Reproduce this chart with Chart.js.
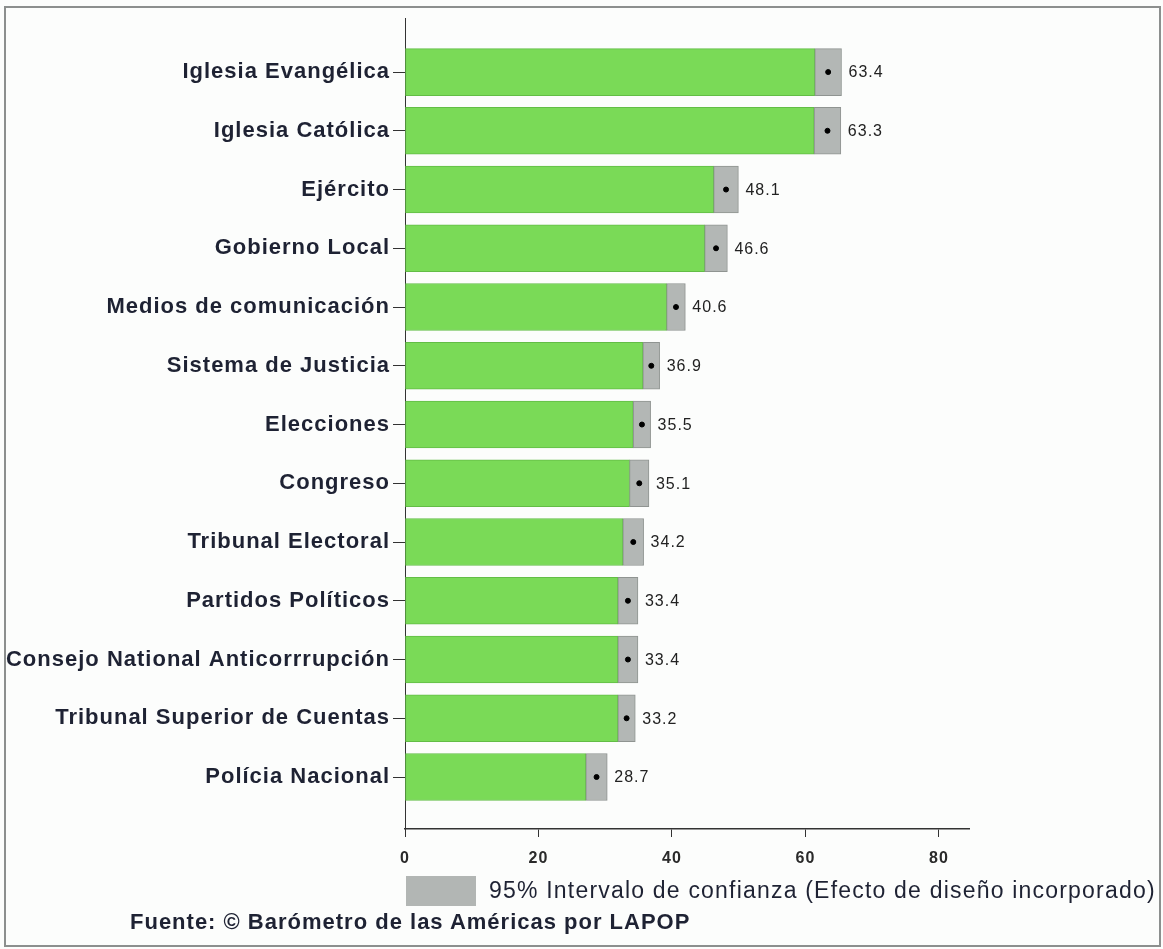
<!DOCTYPE html>
<html lang="es">
<head>
<meta charset="UTF-8">
<title>Confianza en instituciones</title>
<style>
    body { margin: 0; background: #fff; }
    .page { position: relative; width: 1163px; height: 949px; background: #fcfdfc; overflow: hidden; }
    .frame { position: absolute; left: 4px; top: 6px; width: 1153px; height: 937px; border: 2px solid #8c8f8e; }
    canvas { position: absolute; left: 0; top: 0; }
    .legendBox { position: absolute; left: 406px; top: 876px; width: 70px; height: 30px; background: #b2b6b4; }
    .legendText { position: absolute; left: 489px; top: 877px; font: 23px "Liberation Sans", Arial, sans-serif; letter-spacing: 1.2px; color: #1e2233; white-space: nowrap; }
    .source { position: absolute; left: 130px; top: 909px; font: bold 22px "Liberation Sans", Arial, sans-serif; letter-spacing: 1px; color: #1e2233; white-space: nowrap; }
</style>
</head>
<body>
<div class="page">
    <div class="frame"></div>
    <canvas id="confChart" width="1163" height="949"></canvas>
    <div class="legendBox"></div>
    <div class="legendText">95% Intervalo de confianza (Efecto de diseño incorporado)</div>
    <div class="source">Fuente: © Barómetro de las Américas por LAPOP</div>
</div>
<script src="https://cdn.jsdelivr.net/npm/chart.js"></script>
<script>
    const institutions = [
        "Iglesia Evangélica", "Iglesia Católica", "Ejército", "Gobierno Local",
        "Medios de comunicación", "Sistema de Justicia", "Elecciones", "Congreso",
        "Tribunal Electoral", "Partidos Políticos", "Consejo National Anticorrrupción",
        "Tribunal Superior de Cuentas", "Polícia Nacional"
    ];
    const trust = [63.4, 63.3, 48.1, 46.6, 40.6, 36.9, 35.5, 35.1, 34.2, 33.4, 33.4, 33.2, 28.7];
    // half width of the 95% interval
    const ciHalf = [2.0, 2.0, 1.85, 1.7, 1.4, 1.25, 1.3, 1.45, 1.55, 1.5, 1.5, 1.3, 1.6];
    const xTicks = [0, 20, 40, 60, 80];

    const greenBars = trust.map((v, i) => ({ y: i, x: [0, v - ciHalf[i]] }));
    const ciBars = trust.map((v, i) => ({ y: i, x: [v - ciHalf[i], v + ciHalf[i]] }));
    const points = trust.map((v, i) => ({ y: i, x: v }));

    const textColor = '#1e2233';

    // a little tracking, the original lettering is wider than Liberation Sans
    const spacing = {
        id: 'spacing',
        beforeDraw(chart) { chart.ctx.letterSpacing = '1px'; },
        afterDraw(chart) { chart.ctx.letterSpacing = '0px'; }
    };

    const valueLabels = {
        id: 'valueLabels',
        afterDatasetsDraw(chart) {
            const ctx = chart.ctx;
            const meta = chart.getDatasetMeta(1);
            ctx.save();
            ctx.font = '16px "Liberation Sans", Arial, sans-serif';
            ctx.fillStyle = '#222';
            ctx.textBaseline = 'middle';
            meta.data.forEach((bar, i) => {
                ctx.fillText(trust[i].toFixed(1), bar.x + 7, bar.y + 1);
            });
            ctx.restore();
        }
    };

    new Chart(document.getElementById('confChart'), {
        type: 'bar',
        data: {
            datasets: [{
                data: greenBars,
                backgroundColor: '#7ada57',
                borderColor: '#62bd45',
                borderWidth: 1,
                borderSkipped: false,
                barThickness: 47,
                grouped: false,
                order: 3
            }, {
                data: ciBars,
                backgroundColor: '#b3b7b5',
                borderColor: '#8f9491',
                borderWidth: 1,
                borderSkipped: false,
                barThickness: 47,
                grouped: false,
                order: 2
            }, {
                type: 'scatter',
                data: points,
                backgroundColor: '#000',
                borderColor: '#000',
                pointRadius: 2.5,
                order: 1
            }]
        },
        options: {
            indexAxis: 'y',
            responsive: false,
            animation: false,
            layout: { padding: { left: 0, right: 194, top: 18, bottom: 0 } },
            plugins: { legend: { display: false }, tooltip: { enabled: false } },
            scales: {
                y: {
                    type: 'linear',
                    reverse: true,
                    offset: false,
                    min: -0.92,
                    max: 12.885,
                    afterBuildTicks: s => { s.ticks = institutions.map((c, i) => ({ value: i })); },
                    afterFit: s => { s.width = 405; },
                    ticks: {
                        callback: v => institutions[v],
                        font: { family: '"Liberation Sans", Arial, sans-serif', size: 22, weight: 'bold' },
                        color: textColor,
                        padding: 3,
                        autoSkip: false
                    },
                    grid: { drawOnChartArea: false, offset: false, tickLength: 12, color: '#333' },
                    border: { color: '#333', width: 1 }
                },
                x: {
                    type: 'linear',
                    min: 0,
                    max: 84.5,
                    afterBuildTicks: s => { s.ticks = xTicks.map(v => ({ value: v })); },
                    afterFit: s => { s.height = 120; },
                    ticks: {
                        font: { family: '"Liberation Sans", Arial, sans-serif', size: 16, weight: 'bold' },
                        color: '#2a2a2a',
                        padding: 12
                    },
                    grid: { drawOnChartArea: false, tickLength: 8, color: '#333' },
                    border: { color: '#333', width: 1.5 }
                }
            }
        },
        plugins: [spacing, valueLabels]
    });
</script>
</body>
</html>
